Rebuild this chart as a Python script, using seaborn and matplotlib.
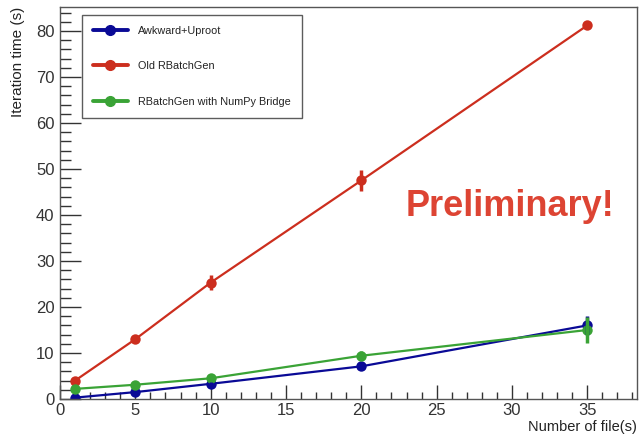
import matplotlib
matplotlib.use("Agg")
import matplotlib.pyplot as plt
import seaborn as sns
import pandas as pd
import numpy as np
from matplotlib.ticker import MultipleLocator
from matplotlib.lines import Line2D

files = [1, 5, 10, 20, 35]
series_names = ["Awkward+Uproot", "Old RBatchGen", "RBatchGen with NumPy Bridge"]
awkward = [0.3, 1.5, 3.3, 7.1, 16.0]
awkward_err = [0.2, 0.2, 0.3, 0.4, 2.0]
old_rbg = [4.0, 13.0, 25.3, 47.5, 81.2]
old_rbg_err = [0.3, 0.3, 1.7, 2.2, 0.3]
numpy_rbg = [2.2, 3.1, 4.5, 9.4, 15.0]
numpy_rbg_err = [0.2, 0.2, 0.3, 1.0, 2.8]
colors = ["#0a0a96", "#cc2e1e", "#3aa336"]

sns.set_theme(style="white")
plt.rcParams["font.family"] = ["Liberation Sans", "DejaVu Sans"]

rows = []
for name, vals in zip(series_names, [awkward, old_rbg, numpy_rbg]):
    for x, v in zip(files, vals):
        rows.append({"files": x, "time": v, "series": name})
df = pd.DataFrame(rows)

fig = plt.figure(figsize=(6.39, 4.34), dpi=100)
ax = fig.add_axes([60/639, 1-399/434, (637-60)/639, (399-7)/434])

sns.lineplot(data=df, x="files", y="time", hue="series", hue_order=series_names,
             palette=colors, marker="o", markersize=7.5, markeredgewidth=0,
             linewidth=1.6, ax=ax, legend=False)
for vals, errs, c in zip([awkward, old_rbg, numpy_rbg],
                         [awkward_err, old_rbg_err, numpy_rbg_err], colors):
    ax.errorbar(files, vals, yerr=errs, fmt="none", ecolor=c, elinewidth=2.5, capsize=0)

ax.set_xlim(0, 38.3)
ax.set_ylim(0, 85.2)
ax.xaxis.set_major_locator(MultipleLocator(5))
ax.xaxis.set_minor_locator(MultipleLocator(1))
ax.yaxis.set_major_locator(MultipleLocator(10))
ax.yaxis.set_minor_locator(MultipleLocator(2))
ax.tick_params(axis="x", which="major", direction="in", length=10, width=1, colors="#333333", labelsize=12, pad=3)
ax.tick_params(axis="x", which="minor", direction="in", length=5, width=1, colors="#333333")
ax.tick_params(axis="y", which="major", direction="in", length=15, width=1, colors="#333333", labelsize=12, pad=4)
ax.tick_params(axis="y", which="minor", direction="in", length=8, width=1, colors="#333333")
ax.tick_params(bottom=True, left=True, top=False, right=False, which="both")
for sp in ax.spines.values():
    sp.set_color("#555555")
    sp.set_linewidth(1.0)

ax.set_xlabel("")
ax.set_ylabel("")
fig.text(637/639, 1-433.5/434, "Number of file(s)", ha="right", va="bottom", fontsize=10.5, color="#222222")
fig.text(18/639, 1-7/434, "Iteration time (s)", ha="center", va="top", rotation=90, fontsize=11, color="#222222")

handles = [Line2D([0], [0], color=c, marker="o", markersize=7, linewidth=2.8) for c in colors]
leg = ax.legend(handles, series_names, loc="upper left",
                bbox_to_anchor=(82/639, 1-15/434), bbox_transform=fig.transFigure,
                fontsize=7.8, frameon=True, fancybox=False, edgecolor="#333333",
                labelspacing=2.35, handlelength=3.2, handletextpad=1.0,
                borderpad=1.0, borderaxespad=0)
leg.get_frame().set_linewidth(1.0)
for t in leg.get_texts():
    t.set_color("#222222")

fig.text(510/639, 1-207/434, "Preliminary!", ha="center", va="center",
         fontsize=26, fontweight="bold", color="#dd4433")

fig.savefig("out.png", dpi=100)
